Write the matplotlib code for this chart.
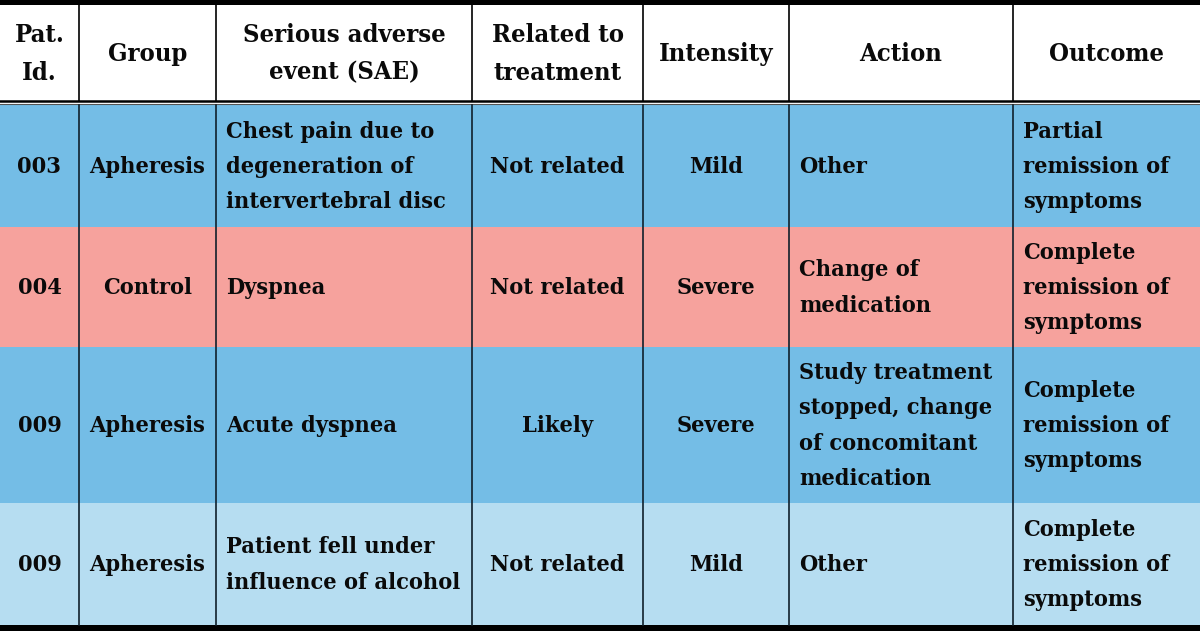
import matplotlib
matplotlib.use("Agg")
import matplotlib.pyplot as plt
from matplotlib.patches import Rectangle
from matplotlib import font_manager as fm

# ---- data ----
headers = ["Pat.\nId.", "Group", "Serious adverse\nevent (SAE)", "Related to\ntreatment",
           "Intensity", "Action", "Outcome"]
pat_ids = ["003", "004", "009", "009"]
groups = ["Apheresis", "Control", "Apheresis", "Apheresis"]
events = ["Chest pain due to\ndegeneration of\nintervertebral disc", "Dyspnea",
          "Acute dyspnea", "Patient fell under\ninfluence of alcohol"]
related = ["Not related", "Not related", "Likely", "Not related"]
intensity = ["Mild", "Severe", "Severe", "Mild"]
actions = ["Other", "Change of\nmedication",
           "Study treatment\nstopped, change\nof concomitant\nmedication", "Other"]
outcomes = ["Partial\nremission of\nsymptoms", "Complete\nremission of\nsymptoms",
            "Complete\nremission of\nsymptoms", "Complete\nremission of\nsymptoms"]

# ---- layout ----
W, H = 1200, 631
col_edges = [0, 79, 216, 472, 643, 789, 1013, 1200]
row_edges = [105, 227, 347, 503, 625]
header_top, header_bot = 5, 101
col_align = ["center", "center", "left", "center", "center", "left", "left"]
row_colors = ["#74BDE6", "#F6A29D", "#74BDE6", "#B6DDF1"]

cond = [f.fname for f in fm.fontManager.ttflist
        if "DejaVuSerifCondensed-Bold.ttf" in f.fname]
if cond:
    fp_body = fm.FontProperties(fname=cond[0], size=16.8)
    fp_head = fm.FontProperties(fname=cond[0], size=18.3)
    lsp_body, lsp_head = 1.77, 1.7
else:
    fp_body = fm.FontProperties(family="Liberation Serif", weight="bold", size=19.5)
    fp_head = fm.FontProperties(family="Liberation Serif", weight="bold", size=20.5)
    lsp_body, lsp_head = 1.7, 1.7

fig = plt.figure(figsize=(12, 6.31), dpi=100)
ax = fig.add_axes([0, 0, 1, 1])
ax.set_xlim(0, W)
ax.set_ylim(H, 0)
ax.axis("off")

ax.add_patch(Rectangle((0, header_top), W, row_edges[0] - header_top, color="white", zorder=0))

columns = [pat_ids, groups, events, related, intensity, actions, outcomes]
for r in range(len(pat_ids)):
    y0, y1 = row_edges[r], row_edges[r + 1]
    ax.add_patch(Rectangle((0, y0), W, y1 - y0, color=row_colors[r], zorder=0, lw=0))
    for c, col in enumerate(columns):
        x0, x1 = col_edges[c], col_edges[c + 1]
        if col_align[c] == "center":
            x, ha = (x0 + x1) / 2, "center"
        else:
            x, ha = x0 + 10, "left"
        ax.text(x, (y0 + y1) / 2 + 1, col[r], ha=ha, va="center", ma=ha,
                fontproperties=fp_body, linespacing=lsp_body, color="#0a0a0a")

for c, h in enumerate(headers):
    x0, x1 = col_edges[c], col_edges[c + 1]
    ax.text((x0 + x1) / 2, (header_top + header_bot) / 2 + 1, h, ha="center", va="center",
            ma="center", fontproperties=fp_head, linespacing=lsp_head, color="#0a0a0a")

# borders
ax.add_patch(Rectangle((0, 0), W, header_top, color="black", zorder=3, lw=0))
ax.add_patch(Rectangle((0, row_edges[-1]), W, H - row_edges[-1], color="black", zorder=3, lw=0))
ax.plot([0, W], [header_bot - 0.5, header_bot - 0.5], color="black", lw=1.8, zorder=3)
ax.plot([0, W], [header_bot + 3, header_bot + 3], color="#555555", lw=0.8, zorder=3)
for x in col_edges[1:-1]:
    ax.plot([x, x], [header_top, header_bot], color="black", lw=1.2, zorder=3)
    ax.plot([x, x], [row_edges[0], row_edges[-1]], color="#10202c", lw=1.2, zorder=3)

fig.savefig("out.png", dpi=100)
